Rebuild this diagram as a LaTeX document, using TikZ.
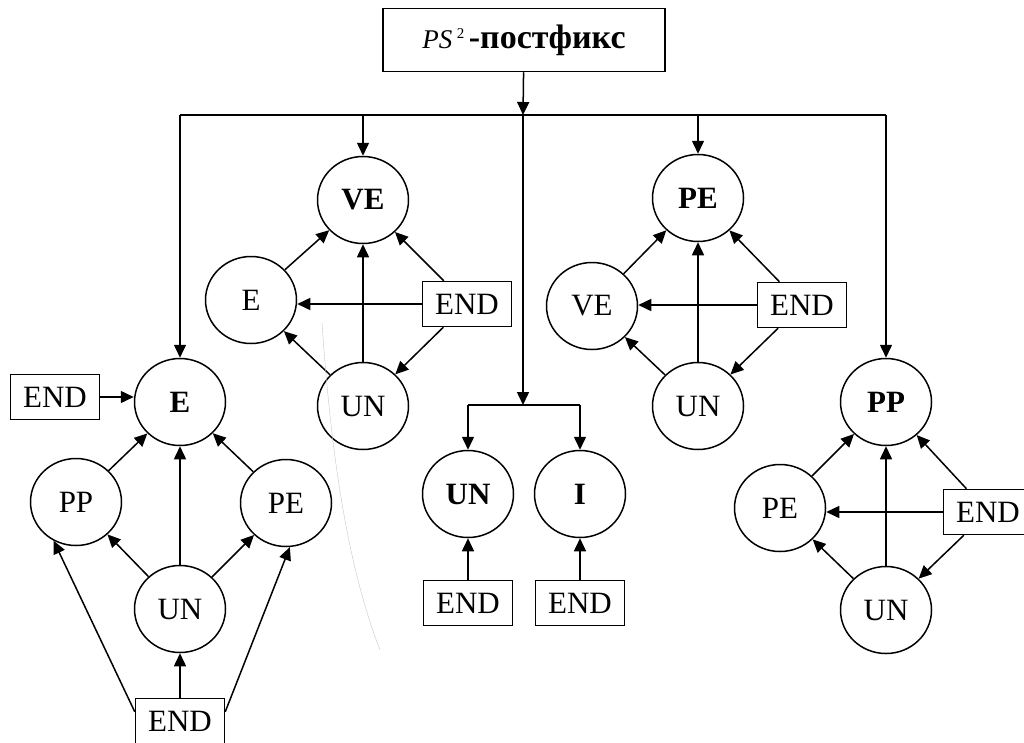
\documentclass[tikz,border=0pt]{standalone}
\usepackage{fontspec}
\setmainfont{Liberation Serif}
\usetikzlibrary{shapes.geometric,arrows.meta}
\begin{document}
\begin{tikzpicture}[x=1pt,y=-1pt,
  lbl/.style={font=\fontsize{31}{35}\selectfont},
  circ/.style={lbl,draw,ellipse,minimum width=91pt,minimum height=87pt,inner sep=0pt,line width=1.5pt},
  endbox/.style={lbl,draw,rectangle,minimum width=89pt,minimum height=45pt,inner sep=0pt,line width=1.5pt},
  arr/.style={line width=1.5pt,-{Triangle[length=13pt,width=12pt]}},
  ln/.style={line width=1.5pt}]
\useasboundingbox (0,0) rectangle (1024,742);
% top
\node[draw,line width=1.5pt,minimum width=282pt,minimum height=63pt,inner sep=0pt] (top) at (524,40)
  {\fontsize{27}{32}\selectfont\textit{PS}\,\raisebox{0.75ex}{\fontsize{15}{18}\selectfont 2}\,\fontsize{34}{38}\selectfont\textbf{-постфикс}};
\coordinate (bus) at (523,115);
\coordinate (bL) at (180,115);
\coordinate (bR) at (886,115);
\draw[arr] (top) -- (bus);
\draw[ln] (bL) -- (bR);
% left group
\node[circ] (e1) at (180,402) {\textbf{E}};
\node[endbox] (endL) at (55,397) {END};
\node[circ] (pp1) at (76,502) {PP};
\node[circ] (pe1) at (286,503) {PE};
\node[circ] (un1) at (180,609) {UN};
\node[endbox] (endB) at (180,721) {END};
\draw[arr] (bL) -- (e1.north);
\draw[arr] (endL.east) -- (endL.east -| e1.west);
\draw[arr] (pp1) -- (e1);
\draw[arr] (pe1) -- (e1);
\draw[arr] (un1) -- (e1);
\draw[arr] (un1) -- (pp1);
\draw[arr] (un1) -- (pe1);
\draw[arr] (endB) -- (un1);
\draw[arr] ([yshift=-14pt]endB.north west) -- (pp1.240);
\draw[arr] ([yshift=-14pt]endB.north east) -- (pe1.275);
% middle-left group
\node[circ] (ve1) at (363,200) {\textbf{VE}};
\node[circ] (e2) at (251,300) {E};
\node[endbox] (end2) at (467,304) {END};
\node[circ] (un2) at (363,406) {UN};
\draw[arr] (bus -| ve1) -- (ve1.north);
\draw[arr] (e2) -- (ve1);
\draw[arr] (un2) -- (ve1);
\draw[arr] (end2) -- (ve1);
\draw[arr] (end2.west) -- (end2.west -| e2.east);
\draw[arr] (end2) -- (un2);
\draw[arr] (un2) -- (e2);
% middle
\coordinate (fork) at (523,405);
\node[circ] (un3) at (468,494) {\textbf{UN}};
\node[circ] (i1) at (580,494) {\textbf{I}};
\node[endbox] (end3) at (468,603) {END};
\node[endbox] (end4) at (580,603) {END};
\draw[arr] (bus) -- (fork);
\draw[ln] (fork -| un3) -- (fork -| i1);
\draw[arr] (fork -| un3) -- (un3.north);
\draw[arr] (fork -| i1) -- (i1.north);
\draw[arr] (end3) -- (un3);
\draw[arr] (end4) -- (i1);
% right-upper group
\node[circ] (pe2) at (698,198) {\textbf{PE}};
\node[circ] (ve2) at (592,306) {VE};
\node[endbox] (end5) at (802,305) {END};
\node[circ] (un4) at (698,406) {UN};
\draw[arr] (bus -| pe2) -- (pe2.north);
\draw[arr] (ve2) -- (pe2);
\draw[arr] (un4) -- (pe2);
\draw[arr] (end5) -- (pe2);
\draw[arr] (end5.west) -- (end5.west -| ve2.east);
\draw[arr] (end5) -- (un4);
\draw[arr] (un4) -- (ve2);
% right-lower group
\node[circ] (pp2) at (886,402) {\textbf{PP}};
\node[circ] (pe3) at (780,508) {PE};
\node[endbox] (end6) at (988,512) {END};
\node[circ] (un5) at (886,610) {UN};
\draw[arr] (bR) -- (pp2.north);
\draw[arr] (pe3) -- (pp2);
\draw[arr] (un5) -- (pp2);
\draw[arr] (end6) -- (pp2);
\draw[arr] (end6.west) -- (end6.west -| pe3.east);
\draw[arr] (end6) -- (un5);
\draw[arr] (un5) -- (pe3);
% faint scan line
\draw[gray!45,line width=0.4pt] (322,323) .. controls (330,440) and (345,560) .. (380,650);
\end{tikzpicture}
\end{document}
